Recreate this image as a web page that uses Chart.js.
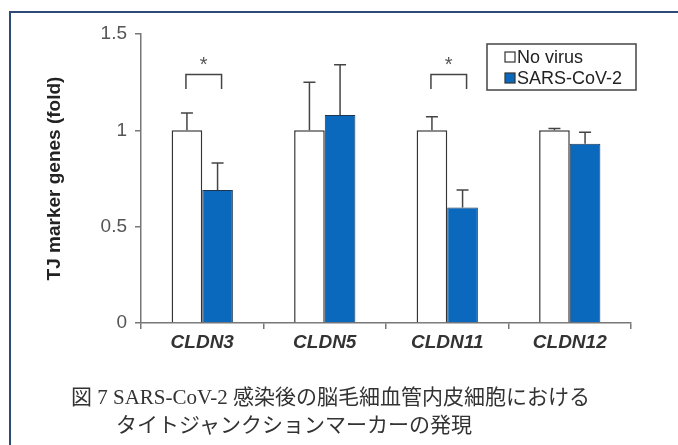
<!DOCTYPE html>
<html>
<head>
<meta charset="utf-8">
<script src="https://cdn.jsdelivr.net/npm/chart.js@4.4.1/dist/chart.umd.min.js"></script>
<style>
    html, body { margin: 0; padding: 0; background: #fff; }
    #wrap { position: relative; width: 678px; height: 445px; overflow: hidden; }
    #frame { position: absolute; left: 9px; top: 11px; width: 700px; height: 500px;
        border-top: 2px solid #2e4b78; border-left: 2px solid #2e4b78; }
    #chart { position: absolute; left: 0; top: 0; }
    .cap { position: absolute; font-family: "Liberation Serif", "Noto Sans CJK JP", serif;
        font-size: 21px; line-height: 28px; color: #333; white-space: nowrap; }
</style>
</head>
<body>
<div id="wrap">
    <div id="frame"></div>
    <canvas id="chart" width="678" height="445"></canvas>
    <div class="cap" style="left:71px; top:383px;">図 7 SARS-CoV-2 感染後の脳毛細血管内皮細胞における</div>
    <div class="cap" style="left:116px; top:411px;">タイトジャンクションマーカーの発現</div>
</div>
<script>
const categories = ["CLDN3", "CLDN5", "CLDN11", "CLDN12"];
const noVirus = [1, 1, 1, 1];
const sarsCov2 = [0.69, 1.08, 0.60, 0.93];
const noVirusErr = [0.09, 0.25, 0.07, 0.01];
const sarsCov2Err = [0.14, 0.26, 0.09, 0.06];
const yTicks = [0, 0.5, 1, 1.5];
const yTickLabels = ["0", "0.5", "1", "1.5"];
// significance brackets
const sigCategories = ["CLDN3", "CLDN11"];
const sigTop = [1.29, 1.29];
const sigLeg = [1.215, 1.215];
const sigStarY = [1.365, 1.365];

const errors = [noVirusErr, sarsCov2Err];
const FONT = '"Liberation Sans", Arial, sans-serif';

// error bars + brackets
const extras = {
    id: "extras",
    afterDatasetsDraw(chart) {
        const c = chart.ctx;
        const y = chart.scales.y;
        c.save();
        c.strokeStyle = "#444";
        c.lineWidth = 1.5;
        chart.data.datasets.forEach((ds, i) => {
            chart.getDatasetMeta(i).data.forEach((bar, j) => {
                const top = y.getPixelForValue(ds.data[j] + errors[i][j]);
                const base = y.getPixelForValue(ds.data[j]);
                c.beginPath();
                c.moveTo(bar.x, base);
                c.lineTo(bar.x, top);
                c.moveTo(bar.x - 6, top);
                c.lineTo(bar.x + 6, top);
                c.stroke();
            });
        });
        sigCategories.forEach((cat, k) => {
            const j = categories.indexOf(cat);
            const x1 = chart.getDatasetMeta(0).data[j].x - 1;
            const x2 = chart.getDatasetMeta(1).data[j].x + 4;
            const yt = y.getPixelForValue(sigTop[k]);
            const yl = y.getPixelForValue(sigLeg[k]);
            c.beginPath();
            c.moveTo(x1, yl);
            c.lineTo(x1, yt);
            c.lineTo(x2, yt);
            c.lineTo(x2, yl);
            c.stroke();
            c.fillStyle = "#555";
            c.font = "20px " + FONT;
            c.textAlign = "center";
            c.textBaseline = "middle";
            c.fillText("*", (x1 + x2) / 2, y.getPixelForValue(sigStarY[k]) + 5);
        });

        // legend box
        c.lineWidth = 1.5;
        c.strokeStyle = "#444";
        c.strokeRect(487, 44, 149, 46);
        c.font = "18px " + FONT;
        c.textAlign = "left";
        c.textBaseline = "middle";
        chart.data.datasets.forEach((ds, i) => {
            const ly = 57 + i * 21;
            c.fillStyle = ds.backgroundColor;
            c.fillRect(505, ly - 5, 10, 10);
            c.lineWidth = 1.2;
            c.strokeStyle = "#333";
            c.strokeRect(505, ly - 5, 10, 10);
            c.fillStyle = "#222";
            c.fillText(ds.label, 517, ly + 1);
        });
        c.restore();
    }
};

const ctx = document.querySelector("#chart").getContext("2d");
const chart = new Chart(ctx, {
    type: "bar",
    data: {
        labels: categories,
        datasets: [
            {
                label: "No virus",
                data: noVirus,
                backgroundColor: "#ffffff",
                borderColor: "#333",
                borderWidth: 1.5,
            },
            {
                label: "SARS-CoV-2",
                data: sarsCov2,
                backgroundColor: "#0a69bd",
                borderColor: "#1d3550",
                borderWidth: 1,
            },
        ]
    },
    plugins: [extras],
    options: {
        responsive: false,
        animation: false,
        categoryPercentage: 0.5,
        barPercentage: 1,
        layout: {
            padding: { left: 36, top: 34, right: 47, bottom: 82 }
        },
        plugins: {
            legend: { display: false },
            tooltip: { enabled: false },
        },
        scales: {
            x: {
                grid: { drawOnChartArea: false, tickLength: 6, color: "#777", lineWidth: 1.5, offset: true },
                border: { color: "#777", width: 1.5 },
                ticks: {
                    color: "#333",
                    padding: 2,
                    font: { family: FONT, size: 19, style: "italic", weight: "bold" },
                },
                afterFit: (s) => { s.height = 40; },
            },
            y: {
                min: 0,
                max: 1.5,
                afterBuildTicks: (s) => { s.ticks = yTicks.map(v => ({ value: v })); },
                grid: { drawOnChartArea: false, tickLength: 6, color: "#777", lineWidth: 1.5 },
                border: { color: "#777", width: 1.5 },
                ticks: {
                    color: "#555",
                    padding: 8,
                    font: { family: FONT, size: 19 },
                    callback: (v) => yTickLabels[yTicks.indexOf(v)],
                },
                title: {
                    display: true,
                    text: "TJ marker genes (fold)",
                    color: "#222",
                    padding: { top: 7, bottom: 0 },
                    font: { family: FONT, size: 19, weight: "bold" },
                },
                afterFit: (s) => { s.width = 105; },
            }
        }
    }
});
</script>
</body>
</html>
